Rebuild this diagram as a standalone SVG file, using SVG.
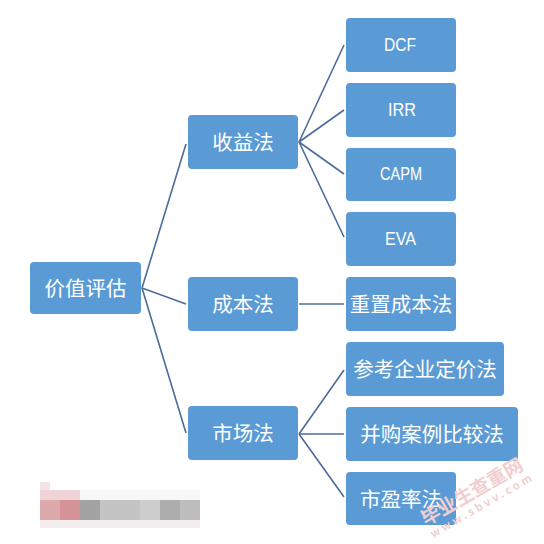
<svg xmlns="http://www.w3.org/2000/svg" width="544" height="544" viewBox="0 0 544 544">
<style>
.n rect{fill:#5B9BD5;}
.n text{fill:#FFFFFF;font-family:"Noto Sans CJK SC","Liberation Sans",sans-serif;font-size:20.5px;text-anchor:middle;dominant-baseline:central;}
.n text.l{font-family:"Liberation Sans",sans-serif;font-size:18px;}
#edges line{stroke:#4A6C9B;stroke-width:1.6;}
.wm{font-family:"Noto Sans CJK SC",sans-serif;fill:#F2CFCF;font-weight:bold;}
</style>
<rect width="544" height="544" fill="#FFFFFF"/>
<g id="edges">
<line x1="142" y1="288" x2="186" y2="144"/>
<line x1="142" y1="288" x2="186" y2="304"/>
<line x1="142" y1="288" x2="186" y2="433"/>
<line x1="299" y1="142" x2="344" y2="45"/>
<line x1="299" y1="142" x2="344" y2="110"/>
<line x1="299" y1="142" x2="344" y2="174"/>
<line x1="299" y1="142" x2="344" y2="237"/>
<line x1="299" y1="304" x2="344" y2="304"/>
<line x1="299" y1="434" x2="344" y2="370"/>
<line x1="299" y1="434" x2="344" y2="434"/>
<line x1="299" y1="434" x2="344" y2="497"/>
</g>
<g id="root" class="n"><rect x="30" y="262" width="111" height="52" rx="4"/><text x="85.5" y="287">价值评估</text></g>
<g id="shouyi" class="n"><rect x="188" y="115" width="110" height="54" rx="4"/><text x="243" y="141">收益法</text></g>
<g id="chengben" class="n"><rect x="188" y="277" width="110" height="54" rx="4"/><text x="243" y="303">成本法</text></g>
<g id="shichang" class="n"><rect x="188" y="406" width="110" height="54" rx="4"/><text x="243" y="432">市场法</text></g>
<g id="dcf" class="n"><rect x="346" y="18" width="110" height="54" rx="4"/><text class="l" x="400" y="45" textLength="32" lengthAdjust="spacingAndGlyphs">DCF</text></g>
<g id="irr" class="n"><rect x="346" y="83" width="110" height="54" rx="4"/><text class="l" x="402" y="110" textLength="28" lengthAdjust="spacingAndGlyphs">IRR</text></g>
<g id="capm" class="n"><rect x="346" y="148" width="110" height="53" rx="4"/><text class="l" x="401" y="174" textLength="42" lengthAdjust="spacingAndGlyphs">CAPM</text></g>
<g id="eva" class="n"><rect x="346" y="212" width="110" height="54" rx="4"/><text class="l" x="400.5" y="239" textLength="31" lengthAdjust="spacingAndGlyphs">EVA</text></g>
<g id="chongzhi" class="n"><rect x="346" y="277" width="110" height="54" rx="4"/><text x="401" y="303">重置成本法</text></g>
<g id="cankao" class="n"><rect x="346" y="342" width="158" height="54" rx="4"/><text x="425" y="368">参考企业定价法</text></g>
<g id="binggou" class="n"><rect x="346" y="407" width="172" height="54" rx="4"/><text x="432" y="433">并购案例比较法</text></g>
<g id="shiying" class="n"><rect x="346" y="472" width="110" height="53" rx="4"/><text x="401" y="498">市盈率法</text></g>
<g id="blur">
<rect x="40" y="482" width="10" height="40" fill="#F3E3E5"/>
<rect x="40" y="490" width="40" height="10" fill="#EFD3D6"/>
<rect x="80" y="490" width="120" height="10" fill="#F7F7F7"/>
<rect x="40" y="500" width="20" height="20" fill="#DCA9AC"/>
<rect x="60" y="500" width="20" height="20" fill="#D49396"/>
<rect x="80" y="500" width="20" height="20" fill="#A3A3A3"/>
<rect x="100" y="500" width="60" height="20" fill="#C4C4C4"/>
<rect x="140" y="500" width="20" height="20" fill="#CDCDCD"/>
<rect x="160" y="500" width="20" height="20" fill="#ADADAD"/>
<rect x="180" y="500" width="20" height="20" fill="#BDBDBD"/>
<rect x="40" y="520" width="160" height="8" fill="#F4EEEE"/>
</g>
<g id="watermark">
<text class="wm" x="0" y="0" font-size="19" transform="translate(426,526) rotate(-30)">毕业生查重网</text>
<text class="wm" x="0" y="0" font-size="11" letter-spacing="3" transform="translate(433,538) rotate(-30)">www.sbvv.com</text>
</g>
</svg>
